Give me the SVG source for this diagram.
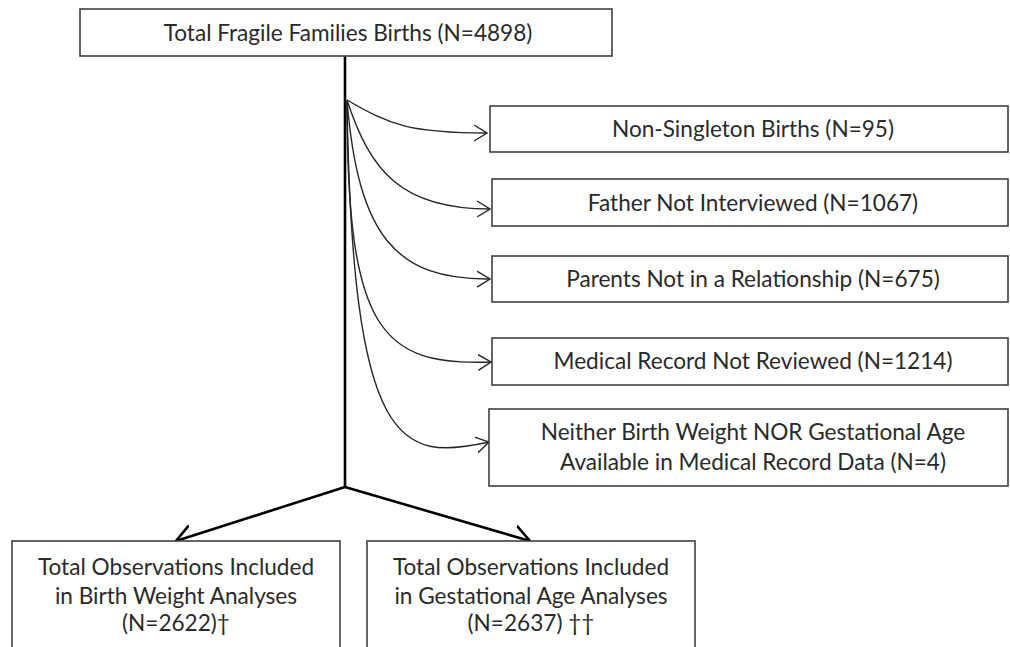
<svg xmlns="http://www.w3.org/2000/svg" width="1010" height="647" viewBox="0 0 1010 647">
<style>
.box{fill:#fff;stroke:#404040;stroke-width:1.6}
.t{font-family:Lato,"Open Sans","Liberation Sans",sans-serif;font-size:22.6px;fill:#2a2a2a;text-anchor:middle}
.thin{fill:none;stroke:#262626;stroke-width:1.4}
.thick{fill:none;stroke:#000;stroke-width:2.6}
</style>
<defs>
<marker id="ah" viewBox="0 0 14 18" refX="13" refY="9" markerWidth="14" markerHeight="18" markerUnits="userSpaceOnUse" orient="auto">
<path d="M0,1 L13,9 L0,17" fill="none" stroke="#262626" stroke-width="1.4"/>
</marker>
<marker id="ahb" viewBox="0 0 18 24" refX="17" refY="12" markerWidth="18" markerHeight="24" markerUnits="userSpaceOnUse" orient="auto">
<path d="M0,1 L17,12 L0,23" fill="none" stroke="#000" stroke-width="2.6"/>
</marker>
</defs>
<g id="connectors">
<line class="thick" x1="345" y1="56" x2="345" y2="488"/>
<path class="thin" marker-end="url(#ah)" d="M347,100 C390,125 410,133 487,133"/>
<path class="thin" marker-end="url(#ah)" d="M347,100 C370,170 400,209 490,209"/>
<path class="thin" marker-end="url(#ah)" d="M347,100 C358,235 395,280 490,279"/>
<path class="thin" marker-end="url(#ah)" d="M347,100 C347,330 380,366 491,362"/>
<path class="thin" marker-end="url(#ah)" d="M347,100 C352,450 400,462 489,442"/>
<line class="thick" marker-end="url(#ahb)" x1="345" y1="487" x2="176" y2="541"/>
<line class="thick" marker-end="url(#ahb)" x1="345" y1="487" x2="530" y2="541"/>
</g>
<g id="n0">
<rect class="box" x="80" y="9" width="532" height="47"/>
<text class="t" x="348" y="41">Total Fragile Families Births (N=4898)</text>
</g>
<g id="n1">
<rect class="box" x="490" y="106" width="518" height="46"/>
<text class="t" x="753" y="137">Non-Singleton Births (N=95)</text>
</g>
<g id="n2">
<rect class="box" x="492" y="179" width="516" height="47"/>
<text class="t" x="753" y="211">Father Not Interviewed  (N=1067)</text>
</g>
<g id="n3">
<rect class="box" x="492" y="256" width="516" height="46"/>
<text class="t" x="753" y="287">Parents Not in a Relationship (N=675)</text>
</g>
<g id="n4">
<rect class="box" x="492" y="338" width="516" height="47"/>
<text class="t" x="753" y="369">Medical Record Not Reviewed (N=1214)</text>
</g>
<g id="n5">
<rect class="box" x="489" y="409" width="519" height="77"/>
<text class="t" x="753" y="440">Neither Birth Weight NOR Gestational Age</text>
<text class="t" x="753" y="470">Available in Medical Record Data  (N=4)</text>
</g>
<g id="n6">
<rect class="box" x="12" y="541" width="328" height="120"/>
<text class="t" x="176" y="575">Total Observations Included</text>
<text class="t" x="176" y="604">in Birth Weight Analyses</text>
<text class="t" x="176" y="631">(N=2622)†</text>
</g>
<g id="n7">
<rect class="box" x="367" y="541" width="328" height="120"/>
<text class="t" x="531" y="575">Total Observations Included</text>
<text class="t" x="531" y="604">in Gestational Age Analyses</text>
<text class="t" x="531" y="631">(N=2637) ††</text>
</g>
</svg>
